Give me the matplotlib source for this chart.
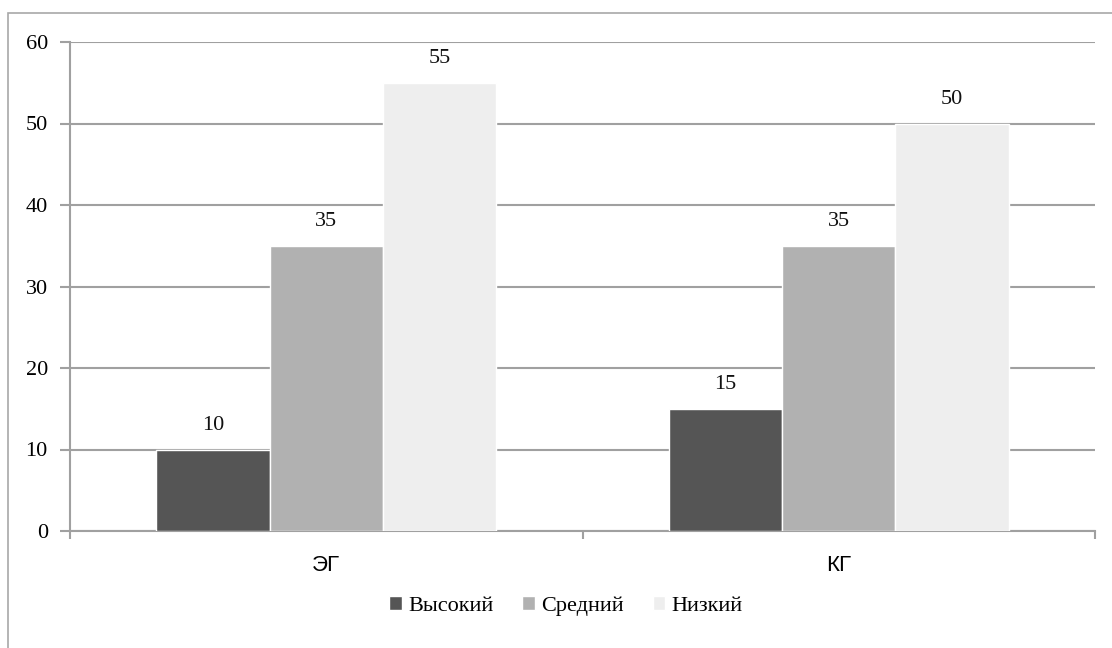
import matplotlib
matplotlib.use("Agg")
import matplotlib.pyplot as plt
import numpy as np
from matplotlib.patches import Rectangle

categories = ["ЭГ", "КГ"]
series_names = ["Высокий", "Средний", "Низкий"]
values = {
    "Высокий": [10, 15],
    "Средний": [35, 35],
    "Низкий": [55, 50],
}
colors = ["#555555", "#b1b1b1", "#eeeeee"]
y_ticks = [0, 10, 20, 30, 40, 50, 60]

W, H = 1112, 648
fig = plt.figure(figsize=(W / 100, H / 100), dpi=100)
fig.patch.set_facecolor("white")

# outer chart frame
fig.patches.append(Rectangle((8 / W, -0.01), (W + 10) / W, (H - 13) / H + 0.01,
                             transform=fig.transFigure, fill=False,
                             edgecolor="#a8a8a8", linewidth=1.2))

ax = fig.add_axes([70 / W, 1 - 531 / H, (1095 - 70) / W, (531 - 42) / H])
ax.set_facecolor("white")

grid_color = "#a0a0a0"
serif = "Liberation Serif"
fs = 16
n = len(categories)
x = np.arange(n)
bw = 0.221
for i, (name, col) in enumerate(zip(series_names, colors)):
    offs = (i - 1) * bw
    vals = values[name]
    ax.bar(x + offs, vals, width=bw, color=col, edgecolor="white",
           linewidth=1.0, label=name, zorder=3)
    for xi, v in zip(x + offs, vals):
        ax.text(xi, v + 1.8, f"{v}", ha="center", va="bottom",
                fontsize=fs, family=serif, color="#111111", zorder=4)

ax.set_xlim(-0.5, n - 0.5)
ax.set_ylim(0, 60)
ax.set_yticks(y_ticks)
ax.set_yticklabels([str(t) for t in y_ticks], family=serif, fontsize=fs)
ax.yaxis.grid(True, color=grid_color, linewidth=1.5, zorder=0)
ax.set_axisbelow(True)

ax.set_xticks(x)
ax.set_xticklabels(categories, family="Liberation Sans", fontsize=fs)
ax.tick_params(axis="x", length=0, pad=17)
ax.set_xticks(np.arange(-0.5, n, 1.0), minor=True)
ax.tick_params(axis="x", which="minor", length=6, color=grid_color, width=1.5)
ax.tick_params(axis="y", length=7, color=grid_color, width=1.5, pad=9)

for s in ["top", "right"]:
    ax.spines[s].set_visible(False)
ax.spines["left"].set_color(grid_color)
ax.spines["left"].set_linewidth(1.5)
ax.spines["bottom"].set_color(grid_color)
ax.spines["bottom"].set_linewidth(1.5)

leg = fig.legend(loc="center", bbox_to_anchor=(566 / W, 1 - 606 / H), ncol=3,
                 frameon=False, prop={"family": serif, "size": fs},
                 handlelength=0.55, handleheight=0.55, handletextpad=0.3,
                 columnspacing=1.3)

fig.savefig("out.png", dpi=100, facecolor="white")
